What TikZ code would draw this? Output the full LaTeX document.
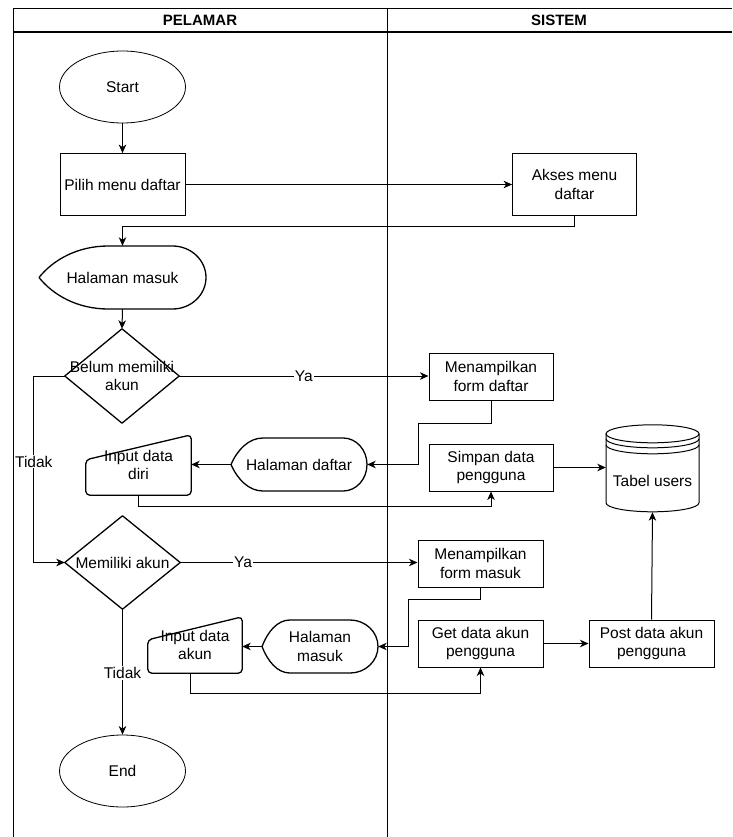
\documentclass[tikz,border=0pt]{standalone}
\usepackage{fontspec}
\setmainfont{Liberation Sans}
\usetikzlibrary{arrows.meta,calc,shapes.geometric}
\tikzset{
  txt/.style={font=\fontsize{15.5}{18.5}\selectfont, align=center, inner sep=0pt},
  sz/.style 2 args={minimum width=#1pt, minimum height=#2pt},
  procbox/.style={txt, draw, line width=1pt, rectangle},
  termnode/.style={txt, draw, line width=0.8pt, ellipse},
  bare/.style={txt, rectangle},
  outline/.style={draw, line width=1.3pt, line join=round},
  conn/.style={line width=1pt, -{Stealth[length=8.5pt,width=7.5pt,inset=2.5pt]}},
  lbl/.style={fill=white, inner sep=1pt, font=\fontsize{15.5}{18}\selectfont},
  lane/.style={line width=1pt},
  hdr/.style={font=\fontsize{15}{17}\selectfont\bfseries},
}
\newcommand\dispoutline[5]{%
  \begin{scope}[shift={(#1.center)}, x=#2pt, y=#3pt]
   \draw[outline] (-1,0) .. controls ({-1+0.2*(#4+1)},0.55) and ({#4-0.45*(#4+1)},1) .. (#4,1) -- (#5,1) .. controls ({#5+0.55*(1-#5)},1) and (1,0.55) .. (1,0) .. controls (1,-0.55) and ({#5+0.55*(1-#5)},-1) .. (#5,-1) -- (#4,-1) .. controls ({#4-0.45*(#4+1)},-1) and ({-1+0.2*(#4+1)},-0.55) .. cycle;
  \end{scope}}
\newcommand\manoutline[2]{\draw[outline, rounded corners=4pt] (#1.south west) -- ([yshift=-#2pt]#1.north west) -- (#1.north east) -- (#1.south east) -- cycle;}
\newcommand\diaoutline[1]{\draw[outline] (#1.north) -- (#1.east) -- (#1.south) -- (#1.west) -- cycle;}
\begin{document}
\begin{tikzpicture}[x=1pt,y=-1pt]
\useasboundingbox (0,0) rectangle (732,837);
% swimlanes
\draw[lane, line width=1.3pt] (13,8.5) -- (732,8.5);
\draw[lane, line width=1.3pt] (13,32) -- (732,32);
\draw[lane] (13,8.5) -- (13,837);
\draw[lane] (387,8.5) -- (387,837);
\node[hdr] (hp) at (200,20.5) {PELAMAR};
\node[hdr] (hs) at (559,20.5) {SISTEM};
% nodes
\node[termnode, sz={126}{72}] (start) at (122.5,87) {Start};
\node[procbox, sz={125}{62}, line width=0.8pt] (pilih) at (122.5,184.5) {Pilih menu daftar};
\node[procbox, sz={124}{62}, line width=0.8pt] (akses) at (574.5,184.5) {Akses menu\\daftar};
\node[bare, sz={167}{63}] (hmasuk) at (122.5,277.5) {Halaman masuk};
\node[bare, sz={114}{94}] (belum) at (122,376) {Belum memiliki\\akun};
\node[procbox, sz={124}{47}] (mform) at (491,376.5) {Menampilkan\\form daftar};
\node[procbox, sz={124}{47}] (simpan) at (491,467.5) {Simpan data\\pengguna};
\node[bare, sz={93}{87}, text height=36pt, text depth=0pt] (tabel) at (652.5,468.5) {Tabel users};
\node[bare, sz={136}{53}] (hdaftar) at (299,464.5) {Halaman daftar};
\node[bare, sz={105}{60}] (indiri) at (138.5,465) {Input data\\diri};
\node[bare, sz={115}{93}] (memiliki) at (122.5,562.5) {Memiliki akun};
\node[procbox, sz={125}{47}] (mmasuk) at (480.5,563.5) {Menampilkan\\form masuk};
\node[procbox, sz={125}{47}] (getd) at (480.5,643.5) {Get data akun\\pengguna};
\node[procbox, sz={125}{47}] (postd) at (651.5,643.5) {Post data akun\\pengguna};
\node[bare, sz={116}{53}] (hmasuk2) at (320,646.5) {Halaman\\masuk};
\node[bare, sz={94}{56}] (inakun) at (195,645) {Input data\\akun};
\node[termnode, sz={126}{72}] (endn) at (122.5,771) {End};
% outlines
\dispoutline{hmasuk}{83.5}{31.5}{-0.17}{0.6}
\dispoutline{hdaftar}{68}{26.5}{-0.53}{0.65}
\dispoutline{hmasuk2}{58}{26.5}{-0.52}{0.52}
\diaoutline{belum}
\diaoutline{memiliki}
\manoutline{indiri}{25}
\manoutline{inakun}{23}
% cylinder
\begin{scope}[shift={(tabel.north)}]
  \draw[line width=1pt] (0,9) ellipse [x radius=46.5pt, y radius=9pt];
  \draw[line width=1pt] (-46.5,14) arc [start angle=180, end angle=360, x radius=46.5pt, y radius=9pt];
  \draw[line width=1pt] (-46.5,20) arc [start angle=180, end angle=360, x radius=46.5pt, y radius=9pt];
  \draw[line width=1pt] (-46.5,9) -- (-46.5,78) arc [start angle=180, end angle=360, x radius=46.5pt, y radius=9pt] -- (46.5,9);
\end{scope}
% connectors
\draw[conn] (start.south) -- (pilih.north);
\draw[conn] (pilih.east) -- (akses.west);
\draw[conn] (akses.south) -- ++(0,11) -| (hmasuk.north);
\draw[conn] (hmasuk.south) -- (belum.north);
\draw[conn] (belum.east) -- node[lbl, pos=0.5] {Ya} (belum.east -| mform.west);
\draw[conn] (belum.west) -- ++(-31,0) |- node[lbl, pos=0.23] {Tidak} (memiliki.west);
\draw[conn] (mform.south) -- ++(0,23) -| ($(hdaftar.east)+(51,0)$) -- (hdaftar.east);
\draw[conn] (simpan.east) -- (simpan.east -| tabel.west);
\draw[conn] (hdaftar.west) -- (hdaftar.west -| indiri.east);
\draw[conn] (indiri.south) -- ++(0,11) -| (simpan.south);
\draw[conn] (memiliki.east) -- node[lbl, pos=0.265] {Ya} (memiliki.east -| mmasuk.west);
\draw[conn] (memiliki.south) -- node[lbl, pos=0.51] {Tidak} (endn.north);
\draw[conn] (mmasuk.south) -- ++(0,12) -| ($(hmasuk2.east)+(30,0)$) -- (hmasuk2.east);
\draw[conn] (hmasuk2.west) -- (hmasuk2.west -| inakun.east);
\draw[conn] ([xshift=-5pt]inakun.south) -- ++(0,20) -| (getd.south);
\draw[conn] (getd.east) -- (postd.west);
\draw[conn] (postd.north) -- (tabel.south);
\end{tikzpicture}
\end{document}
